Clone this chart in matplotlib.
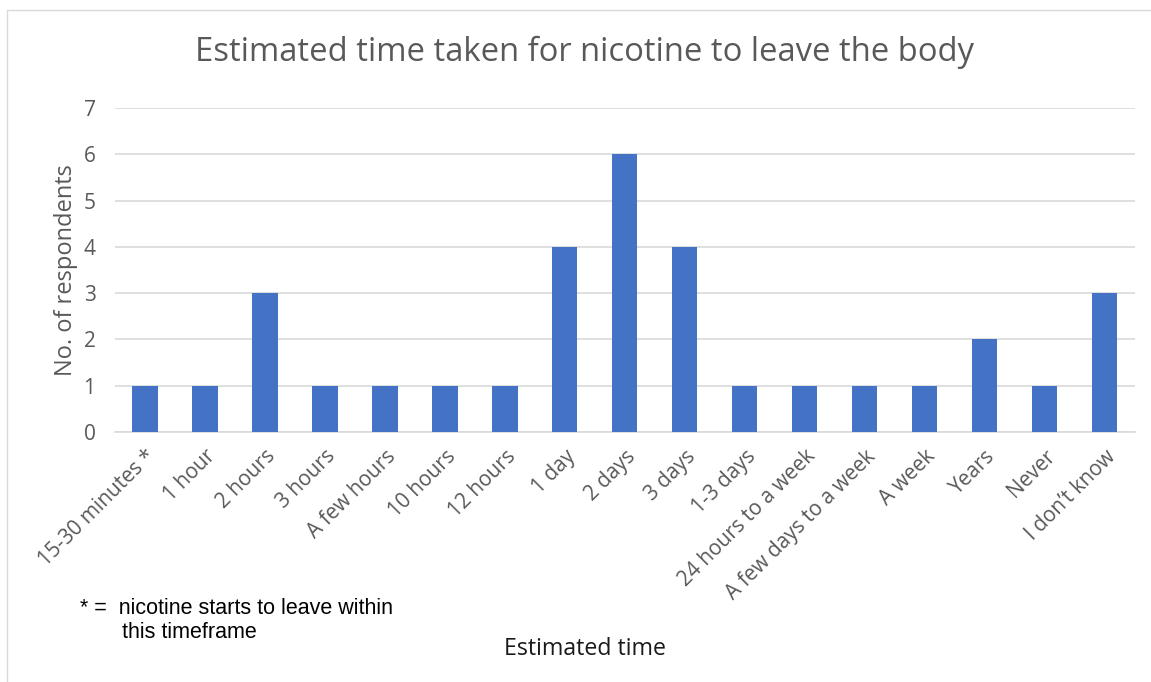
import matplotlib.pyplot as plt
from matplotlib.patches import Rectangle

categories = ["15-30 minutes *", "1 hour", "2 hours", "3 hours", "A few hours",
              "10 hours", "12 hours", "1 day", "2 days", "3 days", "1-3 days",
              "24 hours to a week", "A few days to a week", "A week", "Years",
              "Never", "I don\u2019t know"]
respondents = [1, 1, 3, 1, 1, 1, 1, 4, 6, 4, 1, 1, 1, 1, 2, 1, 3]
y_ticks = [0, 1, 2, 3, 4, 5, 6, 7]

grey_txt = "#595959"
plt.rcParams["font.family"] = ["Open Sans", "DejaVu Sans"]

fig = plt.figure(figsize=(11.51, 6.82), dpi=100)
ax = fig.add_axes([0.0999, 0.3666, 0.886, 0.475])

# chart border
fig.patches.append(Rectangle((7 / 1151, -0.05), 1.2, 1 - 10 / 682 + 0.05,
                             transform=fig.transFigure, fill=False,
                             edgecolor="#d9d9d9", lw=1))

x = range(len(categories))
ax.bar(x, respondents, width=0.42, color="#4472C4", zorder=3)

ax.set_xlim(-0.5, len(categories) - 0.5)
ax.set_ylim(0, 7)
ax.set_yticks(y_ticks)
ax.yaxis.grid(True, color="#d9d9d9", lw=1.2, zorder=0)
for s in ["top", "right", "left"]:
    ax.spines[s].set_visible(False)
ax.spines["bottom"].set_color("#d9d9d9")
ax.spines["bottom"].set_linewidth(1.2)
ax.tick_params(length=0, colors=grey_txt, labelsize=15)
ax.tick_params(axis="y", pad=14)
ax.tick_params(axis="x", pad=10)
ax.set_xticks(list(x))
ax.set_xticklabels(categories, rotation=45, ha="right", rotation_mode="anchor")

ax.set_ylabel("No. of respondents", color=grey_txt, fontsize=17, labelpad=4)
fig.text(0.508, 1 - 52 / 682, "Estimated time taken for nicotine to leave the body",
         ha="center", va="center", fontsize=23.6, color=grey_txt)
fig.text(0.508, 1 - 649 / 682, "Estimated time", ha="center", va="center",
         fontsize=16.7, color="#1a1a1a")
fig.text(80 / 1151, 1 - 608 / 682, "* =  nicotine starts to leave within",
         ha="left", va="center", fontsize=15.5, color="black",
         family="Liberation Sans")
fig.text(122 / 1151, 1 - 633 / 682, "this timeframe",
         ha="left", va="center", fontsize=15.5, color="black",
         family="Liberation Sans")

fig.savefig("out.png", dpi=100)
